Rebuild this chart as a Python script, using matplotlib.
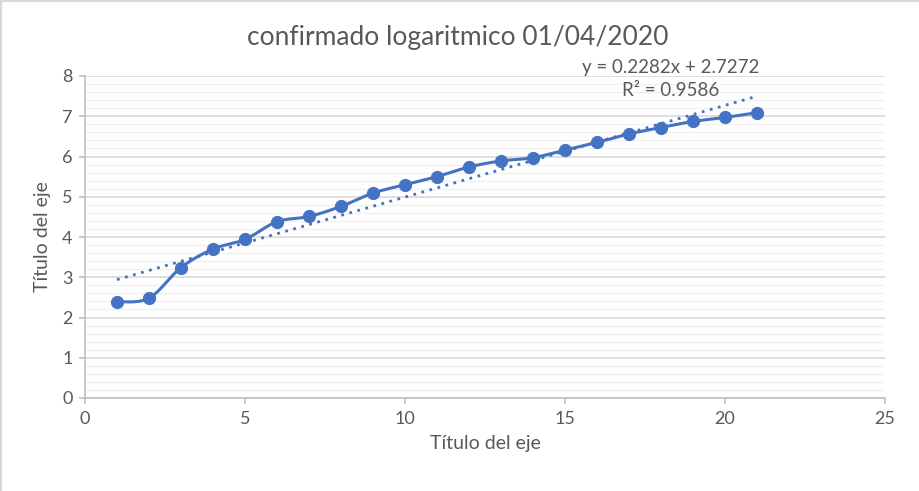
import matplotlib
matplotlib.use("Agg")
import matplotlib.pyplot as plt
import numpy as np
from matplotlib.ticker import MultipleLocator
from matplotlib.lines import Line2D

plt.rcParams['font.family'] = ['Lato', 'DejaVu Sans']

# datos
dias = [1, 2, 3, 4, 5, 6, 7, 8, 9, 10, 11, 12, 13, 14, 15, 16, 17, 18, 19, 20, 21]
log_confirmados = [2.39, 2.48, 3.24, 3.70, 3.94, 4.38, 4.51, 4.76, 5.09, 5.30,
                   5.50, 5.74, 5.89, 5.97, 6.16, 6.35, 6.56, 6.72, 6.87, 6.97, 7.09]
ecuacion = "y = 0.2282x + 2.7272"
r2_texto = "R² = 0.9586"

azul = '#4472C4'
gris = '#595959'


# Curva suavizada tipo Excel (Catmull-Rom con bezier cubico)
def suavizar(x, y, n=30):
    x = np.asarray(x, float)
    y = np.asarray(y, float)
    px = np.concatenate([[x[0]], x, [x[-1]]])
    py = np.concatenate([[y[0]], y, [y[-1]]])
    xs, ys = [], []
    t = np.linspace(0, 1, n)
    for i in range(1, len(px) - 2):
        p0 = np.array([px[i - 1], py[i - 1]])
        p1 = np.array([px[i], py[i]])
        p2 = np.array([px[i + 1], py[i + 1]])
        p3 = np.array([px[i + 2], py[i + 2]])
        c1 = p1 + (p2 - p0) / 6
        c2 = p2 - (p3 - p1) / 6
        b = ((1 - t) ** 3)[:, None] * p1 + (3 * (1 - t) ** 2 * t)[:, None] * c1 \
            + (3 * (1 - t) * t ** 2)[:, None] * c2 + (t ** 3)[:, None] * p2
        xs.extend(b[:, 0])
        ys.extend(b[:, 1])
    return xs, ys


fig = plt.figure(figsize=(9.2, 4.91), dpi=100)
ax = fig.add_axes([85 / 920, 1 - 398 / 491, 800 / 920, 322 / 491])

ax.set_xlim(0, 25)
ax.set_ylim(0, 8)
ax.yaxis.set_major_locator(MultipleLocator(1))
ax.yaxis.set_minor_locator(MultipleLocator(0.2))
ax.xaxis.set_major_locator(MultipleLocator(5))

ax.grid(True, which='major', axis='y', color='#d9d9d9', linewidth=1.2)
ax.grid(True, which='minor', axis='y', color='#f0f0f0', linewidth=1.0)
ax.set_axisbelow(True)

for lado in ['top', 'right']:
    ax.spines[lado].set_visible(False)
for lado in ['left', 'bottom']:
    ax.spines[lado].set_color('#bfbfbf')
    ax.spines[lado].set_linewidth(1.2)

ax.tick_params(axis='both', which='major', colors='#bfbfbf', labelcolor=gris,
               labelsize=13, length=4, width=1.2, pad=5)
ax.tick_params(axis='y', which='minor', length=0)

# serie suavizada
sx, sy = suavizar(dias, log_confirmados)
ax.plot(sx, sy, color=azul, linewidth=2.2, zorder=3)
ax.plot(dias, log_confirmados, 'o', color=azul, markersize=8.5, zorder=4)

# linea de tendencia lineal
coef = np.polyfit(dias, log_confirmados, 1)
xt = np.array([dias[0], dias[-1]])
ax.plot(xt, np.polyval(coef, xt), linestyle=(0, (1, 2)), color=azul,
        linewidth=2, zorder=2)

ax.text(18.3, 8.2, ecuacion, ha='center', va='center', fontsize=13.5,
        color=gris, clip_on=False)
ax.text(18.3, 7.65, r2_texto, ha='center', va='center', fontsize=13.5,
        color=gris, clip_on=False)

# titulo centrado en la figura, como en Excel
fig.text(458 / 920, 1 - 37 / 491, "confirmado logaritmico 01/04/2020",
         fontsize=19, color=gris, ha='center', va='center')
ax.set_xlabel("Título del eje", fontsize=14, color=gris, labelpad=6)
ax.set_ylabel("Título del eje", fontsize=14, color=gris, labelpad=8)

# borde exterior (solo arriba e izquierda)
fig.add_artist(Line2D([0.001, 0.001], [0, 1], color='#d9d9d9', linewidth=1.5))
fig.add_artist(Line2D([0, 1], [0.998, 0.998], color='#d9d9d9', linewidth=1.5))

fig.savefig('out.png', dpi=100)
